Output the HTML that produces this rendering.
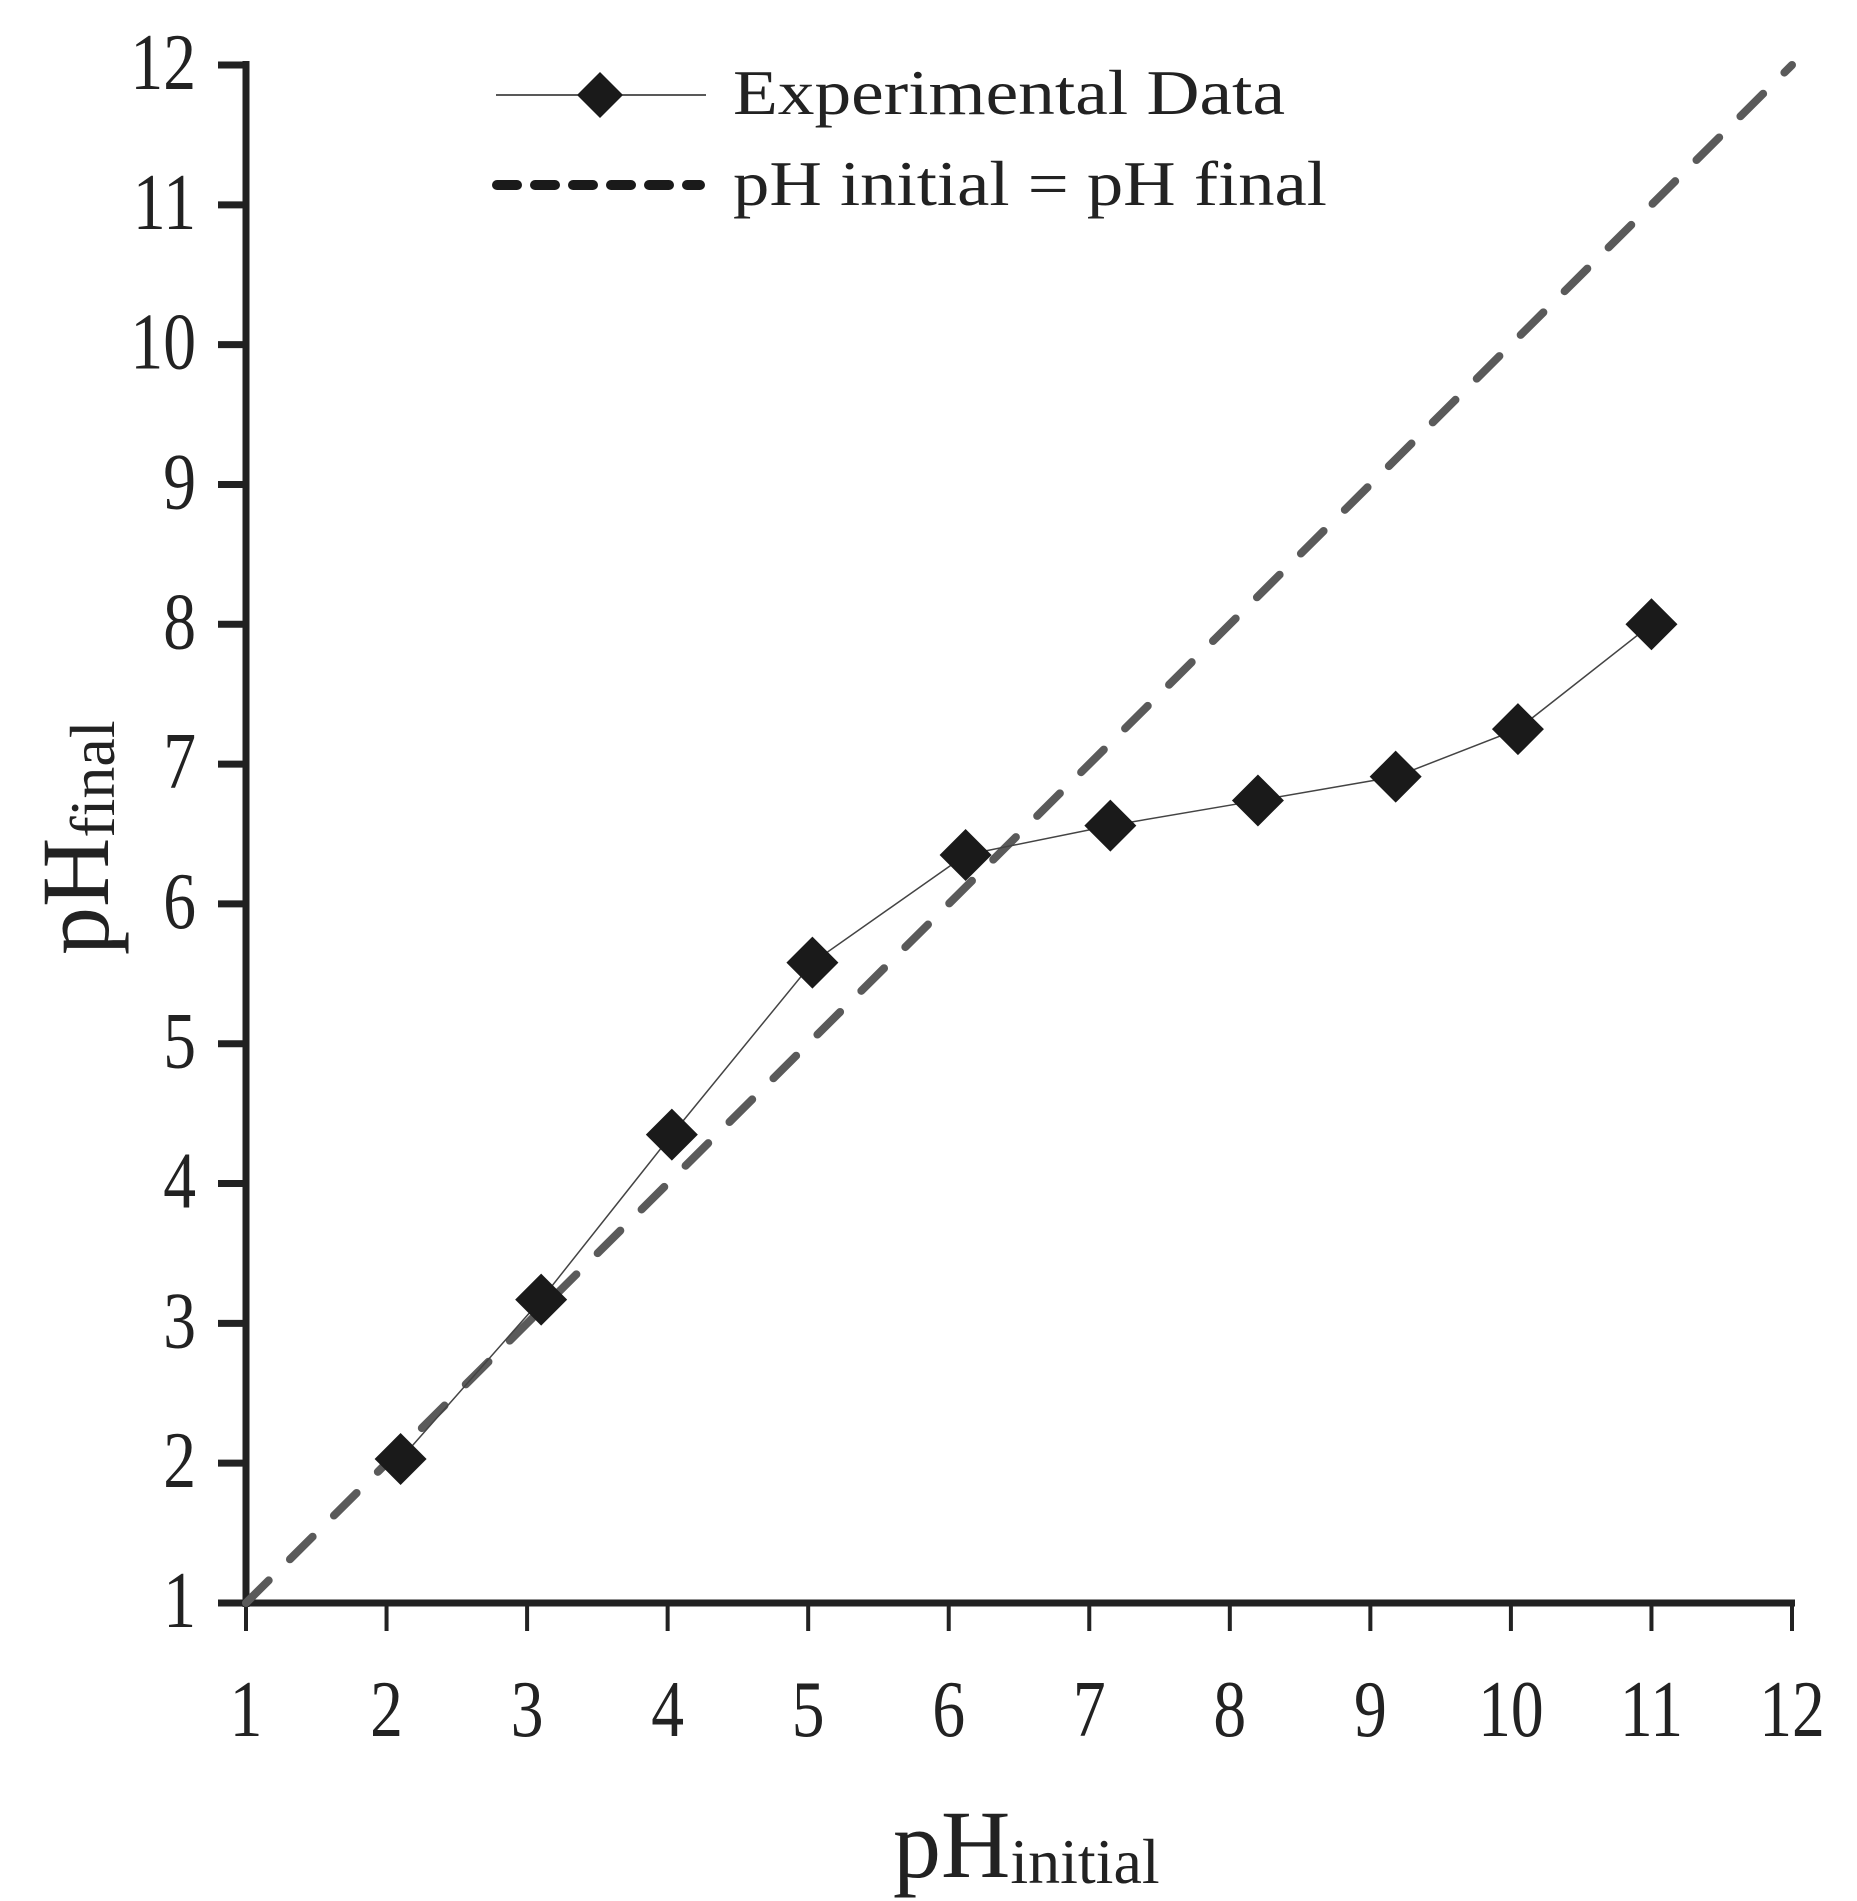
<!DOCTYPE html>
<html><head><meta charset="utf-8"><style>
html,body{margin:0;padding:0;background:#fff;}
svg{display:block;font-family:"Liberation Serif",serif;}
</style></head><body>
<svg id="chart" width="1857" height="1901" viewBox="0 0 1857 1901" xmlns="http://www.w3.org/2000/svg">
<g id="axes"></g>
<g id="series"></g>
<g id="legend">
  <line x1="496" y1="95" x2="706" y2="95" stroke="#222" stroke-width="1.5"/>
  <polygon points="600,72 623,95 600,118 577,95" fill="#1a1a1a"/>
  <text x="733" y="114" font-size="64" textLength="552" lengthAdjust="spacingAndGlyphs" fill="#222">Experimental Data</text>
  <line x1="497" y1="185" x2="700" y2="185" stroke="#1a1a1a" stroke-width="10" stroke-linecap="round" stroke-dasharray="20,18"/>
  <text x="733" y="205" font-size="64" textLength="594" lengthAdjust="spacingAndGlyphs" fill="#222">pH initial = pH final</text>
</g>
<text x="893" y="1877" font-size="96" fill="#222">pH<tspan font-size="64" dy="6">initial</tspan></text>
<text transform="translate(108,955) rotate(-90)" font-size="96" fill="#222">pH<tspan font-size="64" dy="6">final</tspan></text>
<script>
const xTicks = [1,2,3,4,5,6,7,8,9,10,11,12];
const yTicks = [1,2,3,4,5,6,7,8,9,10,11,12];
const xInitial = [2.1,3.1,4.03,5.03,6.12,7.15,8.2,9.18,10.05,11.0];
const yFinal = [2.03,3.17,4.35,5.58,6.35,6.56,6.74,6.91,7.25,8.0];
const identityLine = [1,12];
const NS='http://www.w3.org/2000/svg';
const X0=246,X1=1792,Y0=1603,Y1=65;
function sx(v){return X0+(v-1)*(X1-X0)/11;}
function sy(v){return Y0-(v-1)*(Y0-Y1)/11;}
function mk(tag,attrs,parent){const e=document.createElementNS(NS,tag);for(const k in attrs)e.setAttribute(k,attrs[k]);parent.appendChild(e);return e;}
const axes=document.getElementById('axes');
const series=document.getElementById('series');
let l=mk('line',{x1:X0,y1:Y1-4,x2:X0,y2:Y0+4,stroke:'#222','stroke-width':7},axes);


l=mk('line',{x1:X0-28,y1:Y0,x2:X1+3,y2:Y0,stroke:'#222','stroke-width':7},axes);


xTicks.forEach(v=>{
  const t=mk('line',{x1:sx(v),y1:Y0,x2:sx(v),y2:Y0+28,stroke:'#222','stroke-width':4},axes);
  
  
  const tx=mk('text',{x:0,y:0,'font-size':80,'text-anchor':'middle',fill:'#222',transform:`translate(${sx(v)},1736) scale(0.82,1)`},axes);
  tx.textContent=v;
  
  
});
yTicks.forEach(v=>{
  const t=mk('line',{x1:X0-28,y1:sy(v),x2:X0,y2:sy(v),stroke:'#222','stroke-width':7},axes);
  
  
  const tx=mk('text',{x:0,y:0,'font-size':80,'text-anchor':'end',fill:'#222',transform:`translate(196,${sy(v)+24}) scale(0.82,1)`},axes);
  tx.textContent=v;
  
  
});
const d=mk('line',{x1:sx(identityLine[0]),y1:sy(identityLine[0]),x2:sx(identityLine[1]),y2:sy(identityLine[1]),stroke:'#5a5a5a','stroke-width':8,'stroke-linecap':'round','stroke-dasharray':'32,30'},series);


const pl=mk('polyline',{points:xInitial.map((x,i)=>sx(x)+','+sy(yFinal[i])).join(' '),fill:'none',stroke:'#444','stroke-width':1.5},series);


xInitial.forEach((x,i)=>{
  const cx=sx(x),cy=sy(yFinal[i]),r=26;
  const p=mk('polygon',{points:`${cx},${cy-r} ${cx+r},${cy} ${cx},${cy+r} ${cx-r},${cy}`,fill:'#1a1a1a'},series);
  
  
});
</script>
</svg>
</body></html>
